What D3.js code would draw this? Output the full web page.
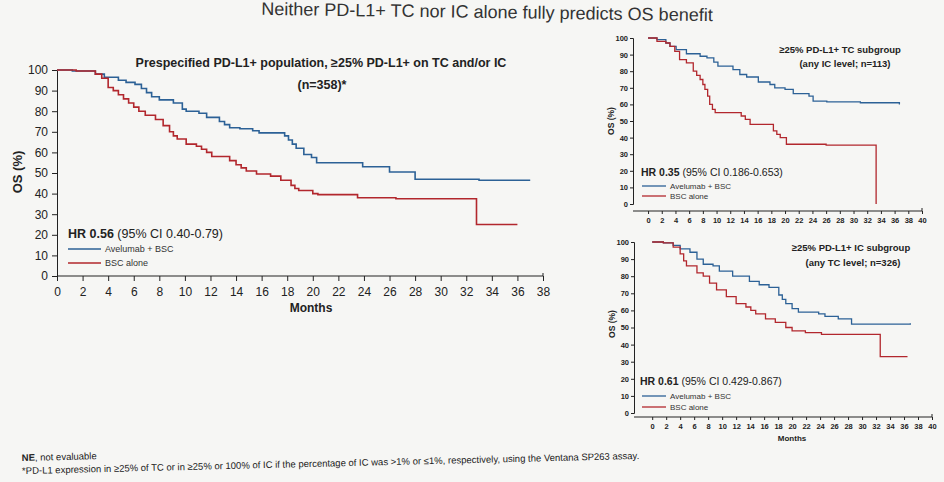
<!DOCTYPE html>
<html>
<head>
<meta charset="utf-8">
<script src="https://cdn.jsdelivr.net/npm/d3@7"></script>
<style>
  body { margin: 0; background: #f6f6f4; }
  svg { display: block; font-family: "Liberation Sans", Arial, sans-serif; }
  .axis path, .axis line { stroke: #222; }
  .axis text { fill: #222; }
</style>
</head>
<body>
<div id="chart"></div>
<script>
// Set the dimensions of the slide
const width = 944, height = 482;

// ########## data (month, OS %) ##########
const SERIES_NAMES = ["Avelumab + BSC", "BSC alone"];
const COLORS = ["#2c6196", "#b2272d"];

// Prespecified PD-L1+ population (n=358)
const allAvelumab = [[0,100],[1.2,99.5],[3.0,98],[3.7,96.5],[4.8,95],[5.4,94],[6.1,93],[6.6,91],[7.0,89],[7.4,87],[8.0,85.5],[9.1,84],[9.8,81],[10.1,80],[11.1,79],[11.7,77],[12.7,75],[13.1,73.5],[13.5,72],[14.3,71.5],[15.3,70.5],[15.8,69.5],[17.5,69.5],[17.8,68],[18.1,66],[18.4,64],[18.7,62],[19.3,59],[19.9,57.5],[20.3,55],[23.9,53],[26.0,50.5],[28.0,47],[33.0,46.5],[37.0,46.5]];
const allBsc = [[0,100],[1.5,99.5],[3.0,98],[3.5,96],[4.0,91.5],[4.4,90],[4.8,88],[5.2,86],[5.6,84],[6.0,82],[6.4,80],[6.9,78],[7.7,76],[8.3,73],[8.8,70],[9.1,68],[9.4,66.5],[10.1,64],[10.9,63],[11.3,61.5],[11.7,60],[12.1,58],[13.5,56],[14.0,54],[14.4,52.5],[14.8,51],[15.6,49.5],[16.7,48.5],[17.5,46.5],[18.3,44],[18.6,42.5],[18.9,41.5],[20.0,40],[20.4,39.5],[23.5,38],[26.5,37.5],[32.8,25],[36.0,25]];

// >=25% PD-L1+ TC subgroup (n=113)
const tcAvelumab = [[0,100],[1.3,99],[2.6,97],[3.2,95],[4.1,93],[5.6,90.5],[7.6,89],[8.6,88],[9.6,85.5],[10.2,83],[12.4,81],[13.4,78],[14.4,76.5],[16.1,73.5],[17.8,72],[18.5,70],[20.0,69],[21.2,66.5],[23.5,65],[24.1,62],[26.1,61.5],[31.0,61],[36.7,60]];
const tcBsc = [[0,100],[1.3,98],[2.6,97],[3.2,95],[3.9,92],[4.6,87],[5.6,85],[6.6,80],[7.1,77.5],[7.6,75],[8.0,72],[8.3,69],[8.7,65],[9.0,60],[9.4,57],[9.8,55],[13.6,53],[14.2,51],[14.9,48],[18.3,44],[18.8,42],[19.3,40],[20.2,36],[26.0,35.5],[33.3,0]];

// >=25% PD-L1+ IC subgroup (n=326)
const icAvelumab = [[0,100],[1.6,99.5],[3.0,98],[4.0,96],[5.4,94],[6.4,90],[7.3,87],[8.7,86],[9.6,83],[11.5,80],[13.9,77],[15.3,75],[16.7,73.5],[18.1,69],[18.6,66.5],[19.1,64],[20.0,61],[20.9,59],[23.8,58],[24.7,56.5],[26.6,55],[28.5,52],[36.9,52.5]];
const icBsc = [[0,100],[1.6,99.5],[3.0,97],[4.0,93],[4.5,89],[4.9,86],[6.4,82],[7.3,80],[8.2,76],[9.2,72],[10.6,68],[12.0,64],[13.4,62],[14.1,60],[14.8,58],[16.2,55],[17.6,53],[19.1,50],[20.0,48],[21.9,47],[24.2,46],[32.6,33],[36.5,33]];

const Y_TICKS = d3.range(0, 101, 10);
const MAIN_X_TICKS = d3.range(0, 39, 2);
const SUB_X_TICKS = d3.range(0, 41, 2);

// ########## svg ##########
const svg = d3.select("#chart").append("svg")
    .attr("width", width)
    .attr("height", height);

svg.append("rect").attr("width", width).attr("height", height).attr("fill", "#f6f6f4");

const lineGenerator = (x, y) => d3.line()
    .x(d => x(d[0]))
    .y(d => y(d[1]))
    .curve(d3.curveStepAfter);

// slide heading (the photo crops its top a little)
svg.append("text")
    .attr("x", 487).attr("y", 18)
    .attr("text-anchor", "middle")
    .attr("transform", "rotate(0.8,487,18)")
    .style("font-size", "18px")
    .style("fill", "#333")
    .text("Neither PD-L1+ TC nor IC alone fully predicts OS benefit");

function drawPanel(p) {
    const x = d3.scaleLinear().domain(p.xDomain).range(p.xRange);
    const y = d3.scaleLinear().domain([0, 100]).range(p.yRange);
    const g = svg.append("g");

    // y axis
    g.append("g")
        .attr("class", "axis")
        .attr("transform", `translate(${p.xRange[0]},0)`)
        .call(d3.axisLeft(y).tickValues(Y_TICKS).tickSizeOuter(0).tickSize(p.tick).tickPadding(p.pad))
        .call(a => a.selectAll("text").style("font-size", p.tickFont).style("font-weight", p.tickWeight));

    // x axis
    g.append("g")
        .attr("class", "axis")
        .attr("transform", `translate(0,${p.xAxisY})`)
        .call(d3.axisBottom(x).tickValues(p.xTicks).tickSizeOuter(0).tickSize(p.tick).tickPadding(p.pad + 2))
        .call(a => a.select(".domain").attr("d", `M${p.xRange[0]},0H${p.xRange[1]}v-3`))
        .call(a => a.selectAll("text").style("font-size", p.tickFont).style("font-weight", p.tickWeight));

    // curves
    [p.avelumab, p.bsc].forEach((data, i) => {
        g.append("path")
            .datum(data)
            .attr("fill", "none")
            .attr("stroke", COLORS[i])
            .attr("stroke-width", p.lineWidth)
            .attr("d", lineGenerator(x, y));
    });

    // y title
    g.append("text")
        .attr("transform", `translate(${p.yTitle[0]},${p.yTitle[1]}) rotate(-90)`)
        .attr("text-anchor", "middle")
        .style("font-size", p.yTitleFont)
        .style("font-weight", "bold")
        .style("fill", "#222")
        .text("OS (%)");

    // x title
    if (p.xTitle) {
        g.append("text")
            .attr("x", p.xTitle[0]).attr("y", p.xTitle[1])
            .attr("text-anchor", "middle")
            .style("font-size", p.xTitleFont)
            .style("font-weight", "bold")
            .style("fill", "#222")
            .text("Months");
    }

    // panel title
    p.title.forEach((t, i) => {
        g.append("text")
            .attr("x", p.titlePos[i][0]).attr("y", p.titlePos[i][1])
            .attr("text-anchor", "middle")
            .style("font-size", p.titleFont)
            .style("font-weight", "bold")
            .style("fill", "#222")
            .text(t);
    });

    // hazard ratio
    const hr = g.append("text")
        .attr("x", p.hrPos[0]).attr("y", p.hrPos[1])
        .style("font-size", p.hrFont)
        .style("fill", "#222");
    hr.append("tspan").style("font-weight", "bold").text(p.hr[0]);
    hr.append("tspan").text(" " + p.hr[1]);

    // legend
    SERIES_NAMES.forEach((name, i) => {
        const ly = p.legend[1] + i * p.legendGap;
        g.append("line")
            .attr("x1", p.legend[0]).attr("x2", p.legend[0] + p.legendLen)
            .attr("y1", ly).attr("y2", ly)
            .attr("stroke", COLORS[i])
            .attr("stroke-width", 1.3);
        g.append("text")
            .attr("x", p.legend[0] + p.legendLen + 4).attr("y", ly + 3)
            .style("font-size", p.legendFont)
            .style("fill", "#333")
            .text(name);
    });
}

drawPanel({
    xDomain: [0, 38], xRange: [57, 543], yRange: [276, 70], xAxisY: 276,
    xTicks: MAIN_X_TICKS, tick: 5, pad: 4, tickFont: "12px", tickWeight: "normal",
    avelumab: allAvelumab, bsc: allBsc, lineWidth: 1.6,
    yTitle: [22, 172], yTitleFont: "13px",
    xTitle: [311, 312], xTitleFont: "12px",
    title: ["Prespecified PD-L1+ population, \u226525% PD-L1+ on TC and/or IC", "(n=358)*"],
    titlePos: [[321, 67], [322, 89]], titleFont: "12.5px",
    hr: ["HR 0.56", "(95% CI 0.40-0.79)"], hrPos: [68, 238], hrFont: "12.5px",
    legend: [68, 249], legendGap: 14, legendLen: 33, legendFont: "9px"
});

drawPanel({
    xDomain: [-2.2, 40], xRange: [633, 922], yRange: [204, 38], xAxisY: 211,
    xTicks: SUB_X_TICKS, tick: 3, pad: 2, tickFont: "7.5px", tickWeight: "bold",
    avelumab: tcAvelumab, bsc: tcBsc, lineWidth: 1.3,
    yTitle: [614, 121], yTitleFont: "8.5px",
    xTitle: null,
    title: ["\u226525% PD-L1+ TC subgroup", "(any IC level; n=113)"],
    titlePos: [[840, 53], [845, 67]], titleFont: "9.5px",
    hr: ["HR 0.35", "(95% CI 0.186-0.653)"], hrPos: [641, 176], hrFont: "10.5px",
    legend: [642, 186], legendGap: 10, legendLen: 24, legendFont: "8px"
});

drawPanel({
    xDomain: [-2.6, 40], xRange: [634, 932], yRange: [413, 242], xAxisY: 417,
    xTicks: SUB_X_TICKS, tick: 3, pad: 2, tickFont: "7.5px", tickWeight: "bold",
    avelumab: icAvelumab, bsc: icBsc, lineWidth: 1.3,
    yTitle: [615, 324], yTitleFont: "8.5px",
    xTitle: [792, 441], xTitleFont: "8px",
    title: ["\u226525% PD-L1+ IC subgroup", "(any TC level; n=326)"],
    titlePos: [[851, 251], [853, 266]], titleFont: "9.5px",
    hr: ["HR 0.61", "(95% CI 0.429-0.867)"], hrPos: [640, 385], hrFont: "10.5px",
    legend: [642, 396], legendGap: 11, legendLen: 24, legendFont: "8px"
});

// footnotes, slightly tilted like the photo
const foot = svg.append("g").attr("transform", "rotate(-1.4,22,470)").style("fill", "#222");
const ne = foot.append("text").attr("x", 22).attr("y", 461).style("font-size", "9.5px");
ne.append("tspan").style("font-weight", "bold").text("NE");
ne.append("tspan").text(", not evaluable");
foot.append("text").attr("x", 22).attr("y", 474).style("font-size", "9.5px")
    .text("*PD-L1 expression in \u226525% of TC or in \u226525% or 100% of IC if the percentage of IC was >1% or \u22641%, respectively, using the Ventana SP263 assay.");
</script>
</body>
</html>
